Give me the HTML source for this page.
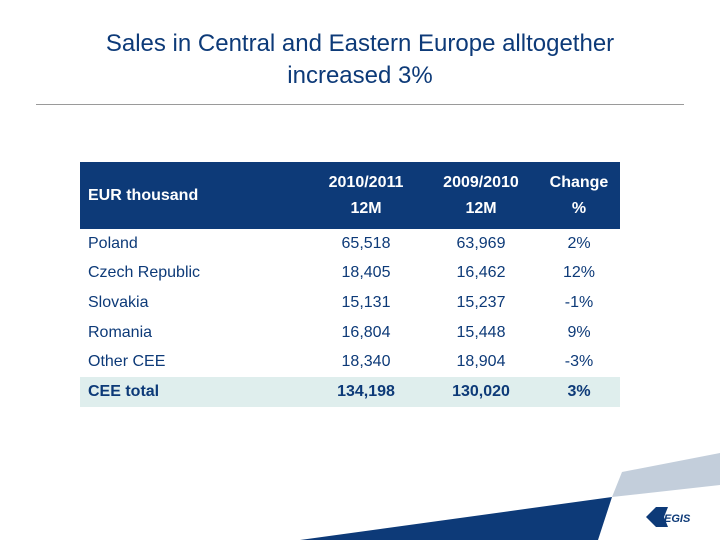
<!DOCTYPE html>
<html><head><meta charset="utf-8"><style>
body{margin:0;width:720px;height:540px;background:#fff;position:relative;overflow:hidden;font-family:"Liberation Sans",sans-serif;}
#title{position:absolute;left:0;top:28px;width:720px;text-align:center;font-size:24px;line-height:32px;color:#0d3a78;}
#rule{position:absolute;left:36px;top:104px;width:648px;height:1px;background:#9a9a9a;}
table{position:absolute;left:80px;top:162px;width:540px;border-collapse:collapse;color:#0d3a78;font-size:16px;}
th{background:#0d3a78;color:#fff;font-weight:bold;height:67px;line-height:26px;padding:0;}
td{height:29.6px;padding:0;}
td.l,th.l{text-align:left;padding-left:8px;}
td.n,th.n{text-align:center;}
tr.tot td{background:#dfeeed;font-weight:bold;}
</style></head><body>
<div id="title">Sales in Central and Eastern Europe alltogether<br>increased 3%</div>
<div id="rule"></div>
<table>
<colgroup><col style="width:228px"><col style="width:116px"><col style="width:114px"><col style="width:82px"></colgroup>
<tr><th class="l">EUR thousand</th><th class="n">2010/2011<br>12M</th><th class="n">2009/2010<br>12M</th><th class="n">Change<br>%</th></tr>
<tr><td class="l">Poland</td><td class="n">65,518</td><td class="n">63,969</td><td class="n">2%</td></tr>
<tr><td class="l">Czech Republic</td><td class="n">18,405</td><td class="n">16,462</td><td class="n">12%</td></tr>
<tr><td class="l">Slovakia</td><td class="n">15,131</td><td class="n">15,237</td><td class="n">-1%</td></tr>
<tr><td class="l">Romania</td><td class="n">16,804</td><td class="n">15,448</td><td class="n">9%</td></tr>
<tr><td class="l">Other CEE</td><td class="n">18,340</td><td class="n">18,904</td><td class="n">-3%</td></tr>
<tr class="tot"><td class="l">CEE total</td><td class="n">134,198</td><td class="n">130,020</td><td class="n">3%</td></tr>
</table>
<svg width="720" height="540" style="position:absolute;left:0;top:0">
<polygon points="300,540 612,497 598,540" fill="#0d3a78"/>
<polygon points="622,472 720,453 720,485 612,497" fill="#c3cedb"/>
<polygon points="646,517 656,507 668,507 664,517 668,527 656,527" fill="#0d3a78"/>
<text x="664" y="522" font-family="Liberation Sans,sans-serif" font-size="11" font-weight="bold" font-style="italic" fill="#0d3a78">EGIS</text>
</svg>
</body></html>
